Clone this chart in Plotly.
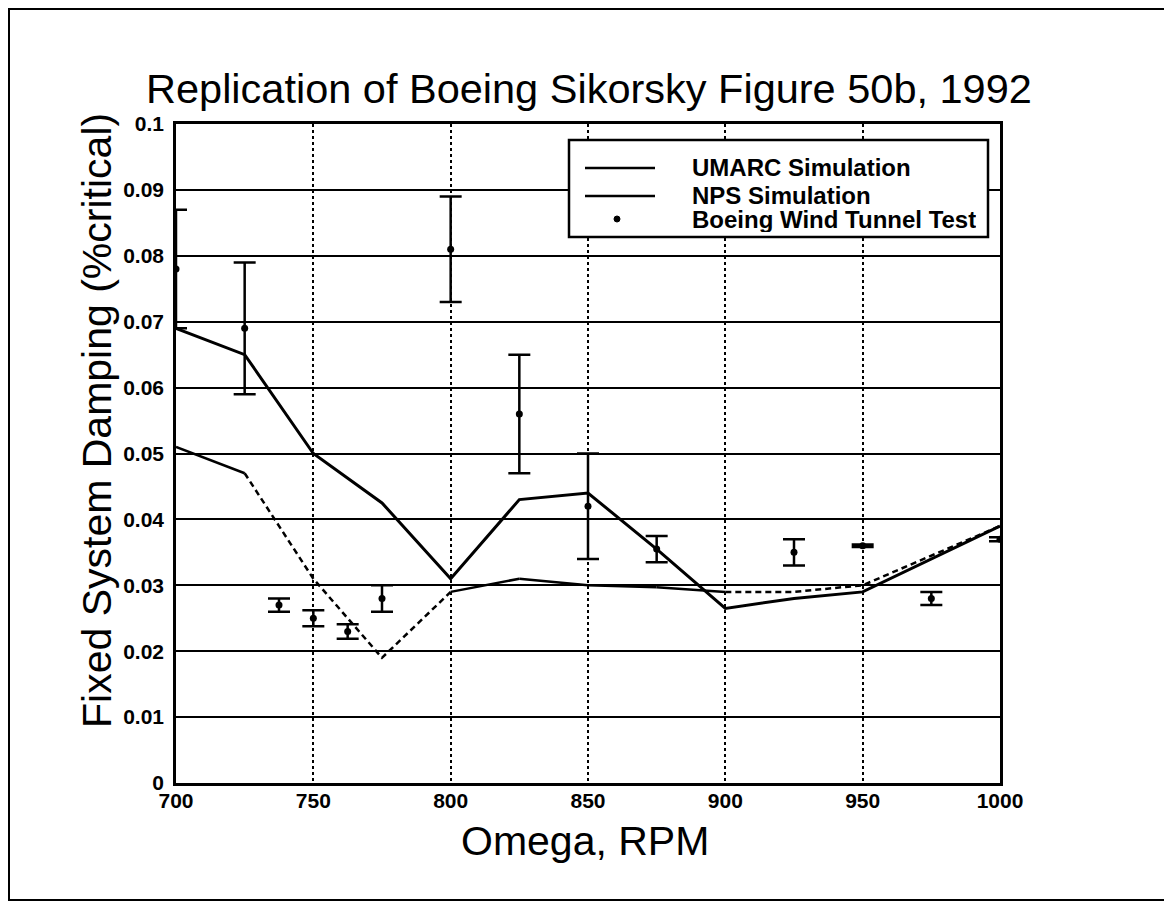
import plotly.graph_objects as go

# ---- data ----
rpm = [700, 725, 750, 775, 800, 825, 850, 875, 900, 925, 950, 975, 1000]
umarc = [0.069, 0.065, 0.050, 0.0425, 0.031, 0.043, 0.044, 0.0355, 0.0265, 0.028, 0.029, 0.034, 0.039]
nps = [0.051, 0.047, 0.031, 0.019, 0.029, 0.031, 0.030, 0.0297, 0.029, 0.029, 0.030, 0.0345, 0.039]
# segments of the NPS curve that appear dashed in the scan (start index, end index)
nps_dashed_segments = [(1, 4), (8, 12)]

test_rpm = [700, 725, 737.5, 750, 762.5, 775, 800, 825, 850, 875, 925, 950, 975, 1000]
test_damp = [0.078, 0.069, 0.027, 0.025, 0.023, 0.028, 0.081, 0.056, 0.042, 0.0355, 0.035, 0.036, 0.028, 0.037]
test_err = [0.009, 0.010, 0.001, 0.0012, 0.0011, 0.002, 0.008, 0.009, 0.008, 0.002, 0.002, 0.0002, 0.001, 0.0003]

x_ticks = [700, 750, 800, 850, 900, 950, 1000]
y_ticks = [0, 0.01, 0.02, 0.03, 0.04, 0.05, 0.06, 0.07, 0.08, 0.09, 0.1]
y_tick_text = ["0", "0.01", "0.02", "0.03", "0.04", "0.05", "0.06", "0.07", "0.08", "0.09", "0.1"]

legend_names = ["UMARC Simulation", "NPS Simulation", "Boeing Wind Tunnel Test"]

FONT = "Liberation Sans, Arial, Helvetica, sans-serif"

fig = go.Figure()

# UMARC simulation
fig.add_trace(go.Scatter(x=rpm, y=umarc, mode="lines", name=legend_names[0],
                         line=dict(color="black", width=3), showlegend=False))

# NPS simulation: solid parts and dashed parts
dashed_idx = set()
for a, b in nps_dashed_segments:
    dashed_idx.update(range(a, b))
solid_x, solid_y = [], []
for i in range(len(rpm) - 1):
    if i not in dashed_idx:
        solid_x += [rpm[i], rpm[i + 1], None]
        solid_y += [nps[i], nps[i + 1], None]
fig.add_trace(go.Scatter(x=solid_x, y=solid_y, mode="lines", name=legend_names[1],
                         line=dict(color="black", width=2.5), showlegend=False,
                         connectgaps=False))
for a, b in nps_dashed_segments:
    fig.add_trace(go.Scatter(x=rpm[a:b + 1], y=nps[a:b + 1], mode="lines",
                             line=dict(color="black", width=2.5, dash="6px,4px"),
                             showlegend=False))

# Boeing wind tunnel test with error bars
fig.add_trace(go.Scatter(x=test_rpm, y=test_damp, mode="markers", name=legend_names[2],
                         marker=dict(color="black", size=7),
                         error_y=dict(type="data", array=test_err, visible=True,
                                      color="black", thickness=2.5, width=11),
                         showlegend=False))

# ---- layout geometry ----
# The page has an 8px body margin, so figure pixel = screen pixel - 8.
OFF = 8
FIG_W, FIG_H = 1164, 897
L, T, W, H = 176 - OFF, 124 - OFF, 824, 659

def px(x):  # screen x -> paper
    return (x - OFF - L) / W

def py(y):  # screen y -> paper
    return (T + H - (y - OFF)) / H

shapes = [
    # outer frame
    dict(type="rect", xref="paper", yref="paper", x0=px(9), x1=px(1167), y0=py(900), y1=py(9),
         line=dict(color="black", width=2), layer="below"),
    # legend box
    dict(type="rect", xref="paper", yref="paper", x0=px(569), x1=px(988), y0=py(237), y1=py(140),
         line=dict(color="black", width=2.5), fillcolor="white", layer="above"),
    # legend line samples
    dict(type="line", xref="paper", yref="paper", x0=px(585), x1=px(655), y0=py(168), y1=py(168),
         line=dict(color="black", width=2.5), layer="above"),
    dict(type="line", xref="paper", yref="paper", x0=px(585), x1=px(655), y0=py(196), y1=py(196),
         line=dict(color="black", width=2.5), layer="above"),
    # legend dot
    dict(type="circle", xref="paper", yref="paper", x0=px(614), x1=px(620), y0=py(222), y1=py(216),
         line=dict(color="black", width=1), fillcolor="black", layer="above"),
]

annotations = [
    dict(text="Replication of Boeing Sikorsky Figure 50b, 1992", xref="paper", yref="paper",
         x=px(589), y=py(88), xanchor="center", yanchor="middle", showarrow=False,
         font=dict(family=FONT, size=41.5, color="black")),
    dict(text="Omega, RPM", xref="paper", yref="paper",
         x=px(585), y=py(841), xanchor="center", yanchor="middle", showarrow=False,
         font=dict(family=FONT, size=41, color="black")),
    dict(text="Fixed System Damping (%critical)", xref="paper", yref="paper",
         x=px(97), y=py(421), xanchor="center", yanchor="middle", showarrow=False,
         textangle=-90, font=dict(family=FONT, size=41, color="black")),
]
for name, yy in zip(legend_names, [167, 195, 220]):
    annotations.append(dict(text=name, xref="paper", yref="paper", x=px(690), y=py(yy),
                            xanchor="left", yanchor="middle", showarrow=False, height=25,
                            font=dict(family=FONT, size=24, color="black", weight="bold")))

fig.update_layout(
    width=FIG_W, height=FIG_H,
    margin=dict(l=L, r=FIG_W - L - W, t=T, b=FIG_H - T - H, autoexpand=False),
    paper_bgcolor="white", plot_bgcolor="white",
    showlegend=False,
    shapes=shapes, annotations=annotations,
    font=dict(family=FONT, color="black"),
)
fig.update_xaxes(range=[700, 1000], tickvals=x_ticks, ticktext=[str(v) for v in x_ticks],
                 showgrid=True, gridcolor="black", gridwidth=2, griddash="dot",
                 showline=True, linecolor="black", linewidth=2.5, mirror=True,
                 ticks="", ticklabelstandoff=-3, zeroline=False,
                 tickfont=dict(family=FONT, size=21, color="black", weight="bold"))
fig.update_yaxes(range=[0, 0.1], tickvals=y_ticks, ticktext=y_tick_text,
                 showgrid=True, gridcolor="black", gridwidth=2,
                 showline=True, linecolor="black", linewidth=2.5, mirror=True,
                 ticks="", ticklabelstandoff=5, zeroline=False,
                 tickfont=dict(family=FONT, size=21, color="black", weight="bold"))

fig.write_html("out.html")
